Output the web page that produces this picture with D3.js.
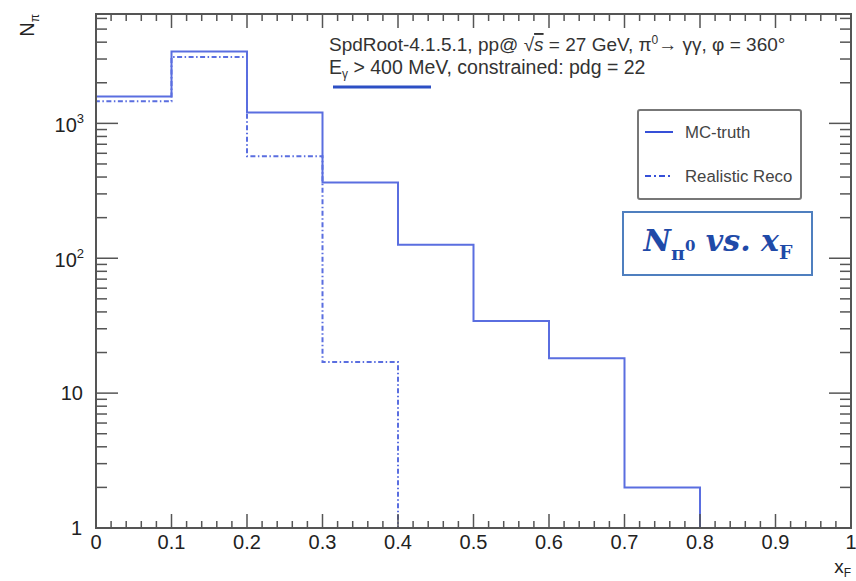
<!DOCTYPE html>
<html>
<head>
<meta charset="utf-8">
<script src="https://cdn.jsdelivr.net/npm/d3@7"></script>
<style>
  body { margin: 0; background: #fff; }
  svg { display: block; font-family: "Liberation Sans", Arial, sans-serif; }
</style>
</head>
<body>
<svg id="chart"></svg>
<script>
// bin edges of x_F
const binEdges = [0, 0.1, 0.2, 0.3, 0.4, 0.5, 0.6, 0.7, 0.8, 0.9, 1.0];
// counts
const mcTruth = [1585, 3415, 1206, 364, 126, 34.2, 18.1, 2, 0, 0];
const realReco = [1456, 3100, 570, 17, 0, 0, 0, 0, 0, 0];
const xTickLabels = ["0", "0.1", "0.2", "0.3", "0.4", "0.5", "0.6", "0.7", "0.8", "0.9", "1"];
const yDecades = [1, 10, 100, 1000];
const legendNames = ["MC-truth", "Realistic Reco"];

const W = 856, H = 581;
const frame = { left: 96, right: 851, top: 14, bottom: 528 };

const svg = d3.select("#chart").attr("width", W).attr("height", H);

const x = d3.scaleLinear().domain([0, 1]).range([frame.left, frame.right]);
const y = d3.scaleLog().domain([1, 6470]).range([frame.bottom, frame.top]).clamp(true);

const axisColor = "#555";
const lineColor = "#5a6ee0";

// histogram as a step outline
function stepPoints(counts) {
  const pts = [[binEdges[0], 0]];
  counts.forEach((c, i) => {
    pts.push([binEdges[i], c]);
    pts.push([binEdges[i + 1], c]);
  });
  return pts;
}
const step = d3.line()
  .x(d => x(d[0]))
  .y(d => d[1] > 0 ? y(d[1]) : frame.bottom);

svg.append("path")
  .attr("d", step(stepPoints(mcTruth)))
  .attr("fill", "none")
  .attr("stroke", lineColor)
  .attr("stroke-width", 2);

svg.append("path")
  .attr("d", step(stepPoints(realReco)))
  .attr("fill", "none")
  .attr("stroke", lineColor)
  .attr("stroke-width", 2)
  .attr("stroke-dasharray", "5,2.5,1.5,2.5");

// frame
const g = svg.append("g").attr("stroke", axisColor).attr("stroke-width", 2);
g.append("rect")
  .attr("x", frame.left).attr("y", frame.top)
  .attr("width", frame.right - frame.left).attr("height", frame.bottom - frame.top)
  .attr("fill", "none");

// x ticks (bottom and top)
d3.range(0, 51).forEach(i => {
  const v = i / 50;
  const len = i % 5 === 0 ? 14 : 7;
  g.append("line").attr("x1", x(v)).attr("x2", x(v))
    .attr("y1", frame.bottom).attr("y2", frame.bottom - len).attr("stroke-width", 1.5);
  g.append("line").attr("x1", x(v)).attr("x2", x(v))
    .attr("y1", frame.top).attr("y2", frame.top + len).attr("stroke-width", 1.5);
});

// y ticks (left and right)
const yMinor = [];
yDecades.forEach(d => { for (let k = 1; k < 10; k++) yMinor.push(d * k); });
yMinor.filter(v => v <= 6470).forEach(v => {
  const major = yDecades.includes(v);
  const len = major ? 22 : 11;
  g.append("line").attr("x1", frame.left).attr("x2", frame.left + len)
    .attr("y1", y(v)).attr("y2", y(v)).attr("stroke-width", 1.5);
  g.append("line").attr("x1", frame.right).attr("x2", frame.right - len)
    .attr("y1", y(v)).attr("y2", y(v)).attr("stroke-width", 1.5);
});

// x tick labels
svg.append("g").selectAll("text")
  .data(xTickLabels)
  .join("text")
  .attr("x", (d, i) => x(i / 10))
  .attr("y", 549)
  .attr("text-anchor", "middle")
  .attr("font-size", 20)
  .attr("fill", "#222")
  .text(d => d);

// y tick labels
const yl = svg.append("g").attr("font-size", 20).attr("fill", "#222");
yl.append("text").attr("x", 82).attr("y", y(1) + 7).attr("text-anchor", "end").text("1");
yl.append("text").attr("x", 83).attr("y", y(10) + 7).attr("text-anchor", "end").text("10");
[100, 1000].forEach(v => {
  const t = yl.append("text").attr("x", 84).attr("y", y(v) + 9).attr("text-anchor", "end");
  t.append("tspan").text("10");
  t.append("tspan").attr("dy", -9).attr("font-size", 13).text(Math.log10(v));
});

// axis titles
const xt = svg.append("text").attr("x", 851).attr("y", 573).attr("text-anchor", "end")
  .attr("font-size", 19).attr("fill", "#222");
xt.append("tspan").text("x");
xt.append("tspan").attr("dy", 4).attr("font-size", 12).text("F");

const yt = svg.append("text").attr("transform", "translate(34,14) rotate(-90)")
  .attr("text-anchor", "end").attr("font-size", 20).attr("fill", "#222");
yt.append("tspan").text("N");
yt.append("tspan").attr("dy", 5).attr("font-size", 12).text("π");

// header text
const h1 = svg.append("text").attr("x", 329).attr("y", 51).attr("font-size", 19).attr("fill", "#333");
h1.append("tspan").text("SpdRoot-4.1.5.1, pp@ ");
h1.append("tspan").text("√");
h1.append("tspan").attr("font-style", "italic").attr("text-decoration", "overline").text("s");
h1.append("tspan").text(" = 27 GeV, π");
h1.append("tspan").attr("dy", -7).attr("font-size", 12).text("0");
h1.append("tspan").attr("dy", 7).text("→ γγ, φ = 360°");

const h2 = svg.append("text").attr("x", 329).attr("y", 74).attr("font-size", 19.5).attr("fill", "#333");
h2.append("tspan").text("E");
h2.append("tspan").attr("dy", 4).attr("font-size", 12).text("γ");
h2.append("tspan").attr("dy", -4).text(" > 400 MeV, constrained: pdg = 22");

svg.append("line").attr("x1", 333).attr("x2", 431).attr("y1", 87).attr("y2", 87)
  .attr("stroke", "#2c4fc4").attr("stroke-width", 3);

// legend
const lg = svg.append("g");
lg.append("rect").attr("x", 638).attr("y", 110).attr("width", 163).attr("height", 89)
  .attr("rx", 2).attr("fill", "#fff").attr("stroke", "#777").attr("stroke-width", 2);
const legendY = [132, 176];
legendNames.forEach((name, i) => {
  lg.append("line").attr("x1", 645).attr("x2", 673).attr("y1", legendY[i]).attr("y2", legendY[i])
    .attr("stroke", "#3650d8").attr("stroke-width", 2)
    .attr("stroke-dasharray", i === 1 ? "6,3,2,3" : null);
  lg.append("text").attr("x", 685).attr("y", legendY[i] + 6).attr("font-size", 16.8)
    .attr("fill", "#444").text(name);
});

// annotation box
svg.append("rect").attr("x", 623).attr("y", 212).attr("width", 189).attr("height", 63)
  .attr("fill", "#fff").attr("stroke", "#4f7fbf").attr("stroke-width", 2);
const bt = svg.append("text").attr("x", 718).attr("y", 251).attr("text-anchor", "middle")
  .style("font-family", "'DejaVu Serif', serif").attr("font-weight", "bold").attr("font-style", "italic")
  .attr("font-size", 30).attr("fill", "#1f4aa8");
bt.append("tspan").text("N");
bt.append("tspan").attr("dy", 9).attr("font-size", 19).attr("font-style", "normal").text("π");
bt.append("tspan").attr("dy", -9).attr("font-size", 15).attr("font-style", "normal").text("0");
bt.append("tspan").attr("dy", 0).text(" vs. x");
bt.append("tspan").attr("dy", 8).attr("font-size", 19).attr("font-style", "normal").text("F");
</script>
</body>
</html>
